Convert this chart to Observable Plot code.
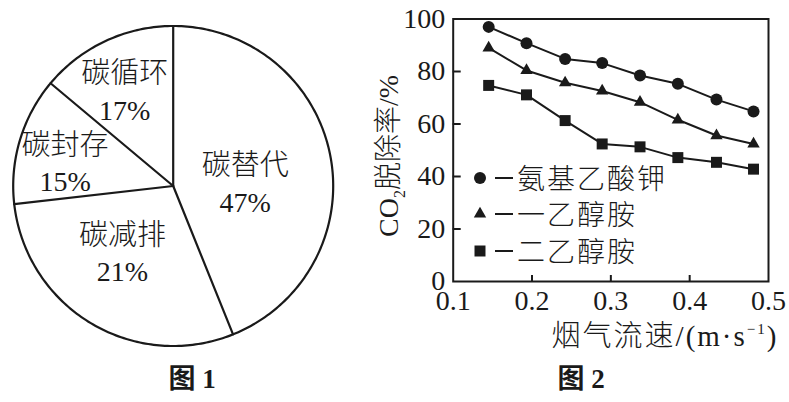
<!DOCTYPE html>
<html><head><meta charset="utf-8">
<script src="https://cdn.jsdelivr.net/npm/d3@7"></script>
<script src="https://cdn.jsdelivr.net/npm/@observablehq/plot@0.6"></script>
<style>
html,body{margin:0;padding:0;background:#fff;}
#root{position:relative;width:789px;height:402px;overflow:hidden;font-family:'Liberation Serif','Noto Sans CJK SC',serif;color:#1a1a1a;}
#root svg text{font-family:'Liberation Serif','Noto Sans CJK SC',serif !important;}
.t{position:absolute;white-space:nowrap;transform:translate(-50%,-50%);line-height:1;}
.cn{font-family:'Noto Sans CJK SC',sans-serif;font-weight:300;}
</style></head><body><div id="root"></div>
<script>
// ---------- Figure 1 data ----------
const pieCategories = ["碳替代", "碳减排", "碳封存", "碳循环"];
const pieLabelPct = [47, 21, 15, 17];
const pieDrawnShare = [43.9, 29.3, 12.9, 13.9]; // slice sizes as drawn in the picture

// ---------- Figure 2 data ----------
const flowRate = [0.145, 0.193, 0.242, 0.289, 0.337, 0.385, 0.434, 0.481];
const seriesNames = ["氨基乙酸钾", "一乙醇胺", "二乙醇胺"];
const glycinateRate = [97, 90.8, 84.8, 83.2, 78.5, 75.3, 69.3, 64.8];
const meaRate = [89, 80.4, 75.7, 72.6, 68.3, 61.6, 55.6, 52.4];
const deaRate = [74.7, 71.1, 61.3, 52.4, 51.3, 47.2, 45.4, 42.8];
const xTicks = [0.1, 0.2, 0.3, 0.4, 0.5];
const yTicks = [0, 20, 40, 60, 80, 100];

// ---------- layout (not data) ----------
const INK = "#1a1a1a";
const labelLayout = [ {angle: 88.8, frac: 0.45}, {angle: 216.7, frac: 0.53}, {angle: 281.6, frac: 0.69}, {angle: 332.7, frac: 0.66} ];
const symbolStyle = [ {symbol: "circle", r: 6}, {symbol: "triangle", r: 4.6}, {symbol: "square", r: 6.2} ];

const root = document.getElementById("root");
function place(el, left, top) { el.style.position = "absolute"; el.style.left = left + "px"; el.style.top = top + "px"; root.appendChild(el); }

// ---------- Figure 1: pie ----------
const total = d3.sum(pieDrawnShare);
let cum = 0;
const slices = pieCategories.map((name, i) => {
  const a0 = cum / total * 2 * Math.PI; cum += pieDrawnShare[i];
  const a1 = cum / total * 2 * Math.PI;
  const L = labelLayout[i], a = L.angle * Math.PI / 180;
  return {name, pct: pieLabelPct[i] + "%", a0, a1, lx: L.frac * Math.sin(a), ly: L.frac * Math.cos(a)};
});
const rim = d3.range(0, 361).map(d => ({x: Math.sin(d * Math.PI / 180), y: Math.cos(d * Math.PI / 180)}));

const pie = Plot.plot({
  width: 360, height: 360,
  marginLeft: 12.7, marginRight: 27.3, marginTop: 25.5, marginBottom: 14.5,
  x: {domain: [-1, 1], axis: null}, y: {domain: [-1, 1], axis: null},
  style: {background: "transparent", overflow: "visible", color: INK},
  marks: [
    Plot.line(rim, {x: "x", y: "y", stroke: INK, strokeWidth: 2.2}),
    Plot.link(slices, {x1: 0, y1: 0, x2: d => Math.sin(d.a0), y2: d => Math.cos(d.a0), stroke: INK, strokeWidth: 2.2, strokeLinecap: "round"}),
    Plot.text(slices, {x: "lx", y: "ly", text: "name", dy: -18.5, fontSize: 29, fontWeight: 300, fill: INK}),
    Plot.text(slices, {x: "lx", y: "ly", text: "pct", dy: 18.5, fontSize: 28, fill: INK})
  ]
});
place(pie, 0, 0);

// ---------- Figure 2: lines ----------
const allRates = [glycinateRate, meaRate, deaRate];
const lineData = seriesNames.flatMap((s, k) => flowRate.map((x, i) => ({series: s, k, x, y: allRates[k][i]})));

const chart = Plot.plot({
  width: 439, height: 350,
  marginLeft: 102.7, marginRight: 21, marginTop: 18.5, marginBottom: 69,
  x: {domain: [0.1, 0.5]}, y: {domain: [0, 100]},
  style: {background: "transparent", overflow: "visible", color: INK, fontSize: "28px"},
  marks: [
    Plot.frame({stroke: INK, strokeWidth: 2}),
    Plot.axisX({ticks: xTicks, tickSize: 0, tickPadding: 9, tickFormat: d3.format(".1f"), label: null, fontSize: 28}),
    Plot.axisX({ticks: xTicks.slice(1, -1), tickSize: 6, dy: -6, fill: "none", strokeWidth: 2, label: null}),
    Plot.axisY({ticks: yTicks, tickSize: 0, tickPadding: 8, label: null, fontSize: 28}),
    Plot.axisY({ticks: yTicks.slice(1, -1), tickSize: 8, dx: 8, fill: "none", strokeWidth: 2, label: null}),
    Plot.line(lineData, {x: "x", y: "y", z: "series", stroke: INK, strokeWidth: 2}),
    ...symbolStyle.map((s, k) => Plot.dot(lineData.filter(d => d.k === k), {x: "x", y: "y", symbol: s.symbol, r: s.r, fill: INK, stroke: "none"}))
  ]
});
place(chart, 350, 0);

// ---------- legend (inside plot area) ----------
const legendRow0 = 177.5, legendStep = 36.7;
seriesNames.forEach((name, k) => {
  const cy = legendRow0 + k * legendStep;
  const s = symbolStyle[k];
  const sym = d3.symbol(s.symbol === "circle" ? d3.symbolCircle : s.symbol === "triangle" ? d3.symbolTriangle : d3.symbolSquare, Math.PI * s.r * s.r)();
  const svg = document.createElementNS("http://www.w3.org/2000/svg", "svg");
  svg.setAttribute("width", 20); svg.setAttribute("height", 20);
  svg.innerHTML = `<path transform="translate(10,10)" d="${sym}" fill="${INK}"/>`;
  place(svg, 470, cy - 10);
  const dash = document.createElement("div");
  dash.style.width = "18px"; dash.style.height = "2px"; dash.style.background = INK;
  place(dash, 495, cy - 1);
  const txt = document.createElement("div");
  txt.className = "cn"; txt.textContent = name;
  txt.style.fontSize = "28px"; txt.style.letterSpacing = "2px"; txt.style.lineHeight = "1"; txt.style.whiteSpace = "nowrap";
  place(txt, 517, cy - 15);
});

// ---------- axis titles & captions ----------
function label(html, cx, cy, css) {
  const d = document.createElement("div"); d.className = "t"; d.innerHTML = html;
  d.style.left = cx + "px"; d.style.top = cy + "px"; Object.assign(d.style, css || {});
  root.appendChild(d); return d;
}
label(`CO<span style="font-size:16px;position:relative;top:7px">2</span><span class="cn">脱除率</span>/%`, 387, 156,
  {fontSize: "28px", transform: "translate(-50%,-50%) rotate(-90deg)"});
label(`<span class="cn">烟气流速</span>/(m·s<span style="font-size:15px;position:relative;top:-12px">−1</span>)`, 665, 335,
  {fontSize: "29px", letterSpacing: "2px"});
label(`<span class="cn" style="font-weight:bold">图</span> 1`, 192, 378, {fontSize: "27px", fontWeight: "bold"});
label(`<span class="cn" style="font-weight:bold">图</span> 2`, 581, 378, {fontSize: "27px", fontWeight: "bold"});
</script></body></html>
